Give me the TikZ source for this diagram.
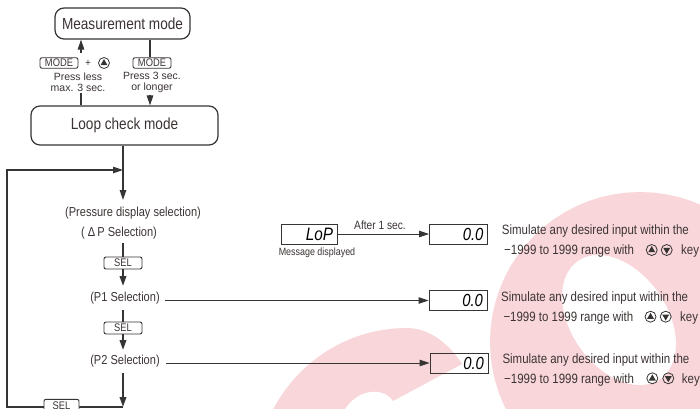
\documentclass[tikz,border=0pt]{standalone}
\usepackage{fontspec}
\setmainfont[FakeStretch=0.85]{Liberation Sans}
\newfontfamily\plainsans{Liberation Sans}
\usetikzlibrary{arrows.meta}
\definecolor{ln}{RGB}{55,52,52}
\definecolor{tx}{RGB}{60,52,52}
\definecolor{wm}{RGB}{249,214,218}
\tikzset{
  every node/.style={text=tx, inner sep=0pt},
  arr/.style={-{Triangle[length=10pt,width=6.5pt]}},
  flowl/.style={draw=ln, line width=1.2pt},
  thickl/.style={draw=ln, line width=2pt},
  thinl/.style={draw=ln, line width=0.9pt},
  modebox/.style={draw=ln, line width=1.2pt, rounded corners=9pt, fill=white},
  keybox/.style={draw=ln, line width=0.9pt, rounded corners=2pt, fill=white,
    minimum width=38pt, minimum height=10.5pt, font=\fontsize{11}{11}\selectfont},
  selbox/.style={draw=ln, line width=0.9pt, rounded corners=2pt, fill=white,
    minimum width=38pt, minimum height=12pt, font=\fontsize{11}{11}\selectfont},
  dispbox/.style={draw=ln, line width=0.9pt, text width=50pt, align=right,
    inner xsep=4pt, minimum height=20pt, text=black,
    font=\itshape\fontsize{17.5}{17.5}\selectfont},
  flowtxt/.style={font=\fontsize{13}{14}\selectfont},
  simtxt/.style={font=\fontsize{13.5}{14}\selectfont, anchor=base west},
  smalltxt/.style={font=\plainsans\fontsize{10.5}{11}\selectfont, align=center},
  upk/.pic={\draw[ln, line width=0.8pt] (0,0) circle[radius=5.5];
            \fill[ln] (0,-3.9) -- (3.5,2.2) -- (-3.5,2.2) -- cycle;},
  dnk/.pic={\draw[ln, line width=0.8pt] (0,0) circle[radius=5.5];
            \fill[ln] (0,3.9) -- (3.5,-2.2) -- (-3.5,-2.2) -- cycle;}
}
\begin{document}
\begin{tikzpicture}[x=1pt,y=-1pt]
\path[clip] (0,0) rectangle (700,408);
\fill[white] (0,0) rectangle (700,408);
% watermark ring: outer circle one way, inner ellipse the other way
\fill[wm, even odd rule]
  plot[domain=0:355, samples=72] ({640+150*cos(\x)}, {342+150*sin(\x)}) -- cycle
  plot[domain=0:355, samples=72]
    ({619+72*cos(-\x)*cos(55)-48*sin(-\x)*sin(55)},
     {320+72*cos(-\x)*sin(55)+48*sin(-\x)*cos(55)}) -- cycle;
\fill[wm] (268,420) .. controls (292,365) and (345,328) .. (407,328)
  .. controls (430,328) and (450,345) .. (462,364) -- (393,401)
  .. controls (385,388) and (358,386) .. (343,412) -- cycle;

% top boxes
\node[modebox, minimum width=135pt, minimum height=31pt,
  font=\fontsize{16}{16}\selectfont] (meas) at (122.5,23.5) {Measurement mode};
\node[modebox, minimum width=187pt, minimum height=39pt,
  font=\fontsize{16}{16}\selectfont] (loop) at (124.5,125.5) {Loop check mode};

% keys and labels between them
\node[keybox] (modeL) at (59,63) {MODE};
\node[font=\fontsize{11}{11}\selectfont] (plus) at (88,63) {+};
\pic at (104,63) {upk};
\node[smalltxt] (lessL) at (78,82.5) {Press less\\max. 3 sec.};
\node[keybox] (modeR) at (152,63) {MODE};
\node[smalltxt] (longR) at (152,82.5) {Press 3 sec.\\or longer};

\coordinate (lu1) at (81,93);
\coordinate (lu2) at (81,53);
\coordinate (rd1) at (150,95);
\draw[flowl] (loop.north -| lu1) -- (lu1);
\draw[flowl, arr] (lu2) -- (meas.south -| lu2);
\draw[flowl] (meas.south -| rd1) -- (modeR.north -| rd1);
\draw[flowl, arr] (rd1) -- (loop.north -| rd1);

% main flow
\coordinate (cx) at (123,0);
\coordinate (jn) at (123,170);
\coordinate (a1) at (123,200);
\coordinate (b1) at (123,243);
\coordinate (c1) at (123,286);
\coordinate (b2) at (123,310);
\coordinate (c2) at (123,350);
\coordinate (b3) at (123,373);
\coordinate (bot) at (123,407);
\coordinate (lft) at (7,407);
\coordinate (ltop) at (7,170);

\node[flowtxt] (ps) at (133,213) {(Pressure display selection)};
\node[flowtxt] (dp) at (119,233) {( Δ\,P Selection)};
\node[selbox] (sel1) at (123,263) {SEL};
\node[flowtxt] (p1) at (125,298) {(P1 Selection)};
\node[selbox] (sel2) at (123,328) {SEL};
\node[flowtxt] (p2) at (125,361) {(P2 Selection)};

\draw[flowl] (loop.south -| cx) -- (jn);
\draw[flowl, arr] (jn) -- (a1);
\draw[thickl] (b1) -- (sel1.north);
\draw[thickl, arr] (sel1.south) -- (c1);
\draw[thickl] (b2) -- (sel2.north);
\draw[thickl, arr] (sel2.south) -- (c2);
\draw[thickl, arr] (b3) -- (bot);
\draw[flowl, arr] (bot) -- (lft) -- (ltop) -- (jn);
\node[selbox, minimum width=35pt] (sel3) at (61.5,405.3) {SEL};

% displays
\node[draw=ln, line width=0.9pt, minimum width=56pt, minimum height=20pt,
  text width=48pt, align=right, inner xsep=4pt, text=black,
  font=\itshape\fontsize{18}{18}\selectfont] (lop) at (309,234) {LoP};
\node[font=\fontsize{10.5}{11}\selectfont] (msg) at (317,253) {Message displayed};
\node[dispbox] (disp1) at (458.5,234) {0.0};
\node[dispbox] (disp2) at (458,300.5) {0.0};
\node[dispbox] (disp3) at (459,363) {0.0};
\node[font=\fontsize{12}{12}\selectfont] (after) at (380,225) {After 1 sec.};

\draw[thinl, arr] (lop.east) -- (disp1.west);
\coordinate (p1e) at (165,0);
\coordinate (p2e) at (166,0);
\draw[thinl, arr] (p1e |- disp2.west) -- (disp2.west);
\draw[thinl, arr] (p2e |- disp3.west) -- (disp3.west);

% descriptions
\node[simtxt] (s1a) at (501.7,234.7) {Simulate any desired input within the};
\node[simtxt] (s1b) at (504,254.7) {−1999 to 1999 range with};
\pic at (651.7,250) {upk};
\pic at (666.7,250) {dnk};
\node[simtxt] (k1) at (681,254.7) {key};

\node[simtxt] (s2a) at (501,301.4) {Simulate any desired input within the};
\node[simtxt] (s2b) at (503.3,321.4) {−1999 to 1999 range with};
\pic at (650.5,316.7) {upk};
\pic at (665.7,316.7) {dnk};
\node[simtxt] (k2) at (680,321.4) {key};

\node[simtxt] (s3a) at (502.3,363) {Simulate any desired input within the};
\node[simtxt] (s3b) at (504,383) {−1999 to 1999 range with};
\pic at (652.3,378.3) {upk};
\pic at (668.3,378.3) {dnk};
\node[simtxt] (k3) at (681.7,383) {key};
\end{tikzpicture}
\end{document}
